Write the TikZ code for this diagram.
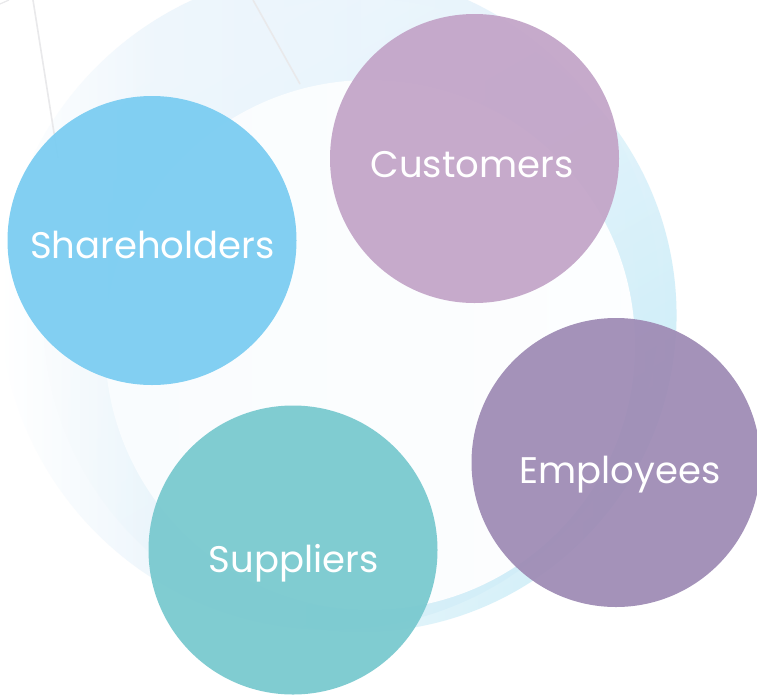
\documentclass[tikz,border=0pt]{standalone}
\usepackage{fontspec}
\setmainfont{Poppins}
\usetikzlibrary{positioning,fadings}

\definecolor{haze}{HTML}{E4F2FB}
\definecolor{hazeleft}{HTML}{EEF6FC}
\definecolor{ringtop}{HTML}{EFF7FD}
\definecolor{ringmid}{HTML}{E6F4FB}
\definecolor{ringlow}{HTML}{C9ECF7}
\definecolor{core}{HTML}{F9FCFE}
\definecolor{wire}{HTML}{E9E9EB}
\definecolor{shareblue}{HTML}{7BCDF2}
\definecolor{custpink}{HTML}{C3A5C8}
\definecolor{emplviolet}{HTML}{9F8CB5}
\definecolor{supteal}{HTML}{79C9CF}

% the wide disc turns blue once past its left rim
\pgfdeclarehorizontalshading{hazefade}{100bp}{color(0bp)=(white); color(25bp)=(white);
  color(37bp)=(hazeleft); color(75bp)=(haze); color(100bp)=(haze)}
\tikzfading[name=ringfade, left color=transparent!100, middle color=transparent!0,
  right color=transparent!0]

\begin{document}
\begin{tikzpicture}[x=1pt, y=-1pt,
    stake/.style={circle, inner sep=0pt, minimum size=289pt, fill opacity=0.94},
    stakelabel/.style={anchor=base, text=white, font=\fontsize{37}{44}\selectfont}]
    \useasboundingbox[fill=white] (0,0) rectangle (757,694);
    % ---- background: soft discs and the pale ring
    \shade[shading=hazefade] (330,300) circle (330);
    \shade[top color=ringtop, middle color=ringmid, bottom color=ringlow, shading angle=30,
      path fading=ringfade] (360,315) circle (317);
    % faint wires behind the core
    \draw[wire, line width=1.6pt] (33,0) -- (58,158);
    \draw[wire, line width=1.6pt] (253,0) -- (300,84);
    \draw[wire, line width=1.2pt] (0,4) -- (9,0);
    \shade[left color=core, right color=white!60!core] (370,345) circle (265);
    % ---- the four stakeholder groups
    \node[stake, fill=shareblue]  (share) at (152,240.5) {};
    \node[stake, fill=custpink]   (cust)  at (474.5,158.5) {};
    \node[stake, fill=emplviolet] (empl)  at (616,462.5) {};
    \node[stake, fill=supteal]    (supp)  at (293,550) {};
    \node[stakelabel] (sharelbl) at (152.5,258) {Shareholders};
    \node[stakelabel] (custlbl)  at (472,177) {Customers};
    \node[stakelabel] (empllbl)  at (620,483) {Employees};
    \node[stakelabel] (supplbl)  at (293.5,572) {Suppliers};
\end{tikzpicture}
\end{document}
